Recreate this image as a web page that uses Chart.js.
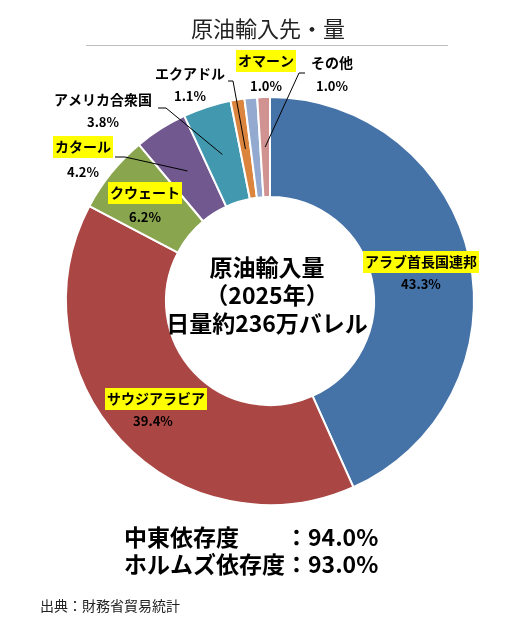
<!DOCTYPE html>
<html>
<head>
<meta charset="utf-8">
<script src="https://cdn.jsdelivr.net/npm/chart.js@4"></script>
<style>
  html, body { margin: 0; padding: 0; background: #fff; }
  #wrap { width: 517px; height: 621px; position: relative; }
</style>
</head>
<body>
<div id="wrap"><canvas id="oil-chart"></canvas></div>
<script>
// 原油輸入先・量 (2025年) — 財務省貿易統計
const categories = ['アラブ首長国連邦', 'サウジアラビア', 'クウェート', 'カタール', 'アメリカ合衆国', 'エクアドル', 'オマーン', 'その他'];
const shares = [43.3, 39.4, 6.2, 4.2, 3.8, 1.1, 1.0, 1.0];
const centerLines = ['原油輸入量', '（2025年）', '日量約236万バレル'];
const dependLabels = ['中東依存度', 'ホルムズ依存度'];
const dependValues = [94.0, 93.0];

const sliceColors = ['#4572A7', '#AA4643', '#89A54E', '#71588F', '#4198AF', '#DB843D', '#93A9CF', '#D19392'];
const FONT = '"Noto Sans CJK JP", "Noto Sans", sans-serif';

// where each category label sits; leader lines run from here to the slice centre
const labelLayout = [
  { x: 421, y: 262, py: 284, box: true },
  { x: 156, y: 399, py: 421, px: 153, box: true },
  { x: 145, y: 193, py: 217, box: true },
  { x: 83, y: 147, py: 172, box: true, leader: [[115, 157], [125, 157]] },
  { x: 103, y: 100, py: 122, leader: [[158, 108], [166, 108]] },
  { x: 190, y: 74, py: 96, leader: [[228, 81], [233, 81]] },
  { x: 266, y: 61, py: 86, box: true },
  { x: 332, y: 63, py: 86, leader: [[305, 73], [299, 73]] }
];

const decorations = {
  id: 'decorations',
  afterDraw(chart) {
    const ctx = chart.ctx;
    const arcs = chart.getDatasetMeta(0).data;
    ctx.save();

    // title + rule
    ctx.fillStyle = '#222';
    ctx.font = `22px ${FONT}`;
    ctx.textAlign = 'center';
    ctx.textBaseline = 'middle';
    ctx.fillText('原油輸入先・量', 268, 29);
    ctx.strokeStyle = '#bdbdbd';
    ctx.lineWidth = 1;
    ctx.beginPath();
    ctx.moveTo(86, 45.5);
    ctx.lineTo(448, 45.5);
    ctx.stroke();

    // leader lines
    ctx.strokeStyle = '#000';
    ctx.lineWidth = 1;
    labelLayout.forEach((lay, i) => {
      if (!lay.leader) return;
      const p = arcs[i].getCenterPoint();
      ctx.beginPath();
      ctx.moveTo(lay.leader[0][0], lay.leader[0][1]);
      ctx.lineTo(lay.leader[1][0], lay.leader[1][1]);
      ctx.lineTo(p.x, p.y);
      ctx.stroke();
    });

    // category labels
    labelLayout.forEach((lay, i) => {
      ctx.font = `bold 14px ${FONT}`;
      const name = categories[i];
      if (lay.box) {
        const w = ctx.measureText(name).width + 4;
        ctx.fillStyle = '#ffff00';
        ctx.fillRect(lay.x - w / 2, lay.y - 11, w, 22);
      }
      ctx.fillStyle = '#000';
      ctx.fillText(name, lay.x, lay.y);
      ctx.font = `bold 13px ${FONT}`;
      ctx.fillText(shares[i].toFixed(1) + '%', lay.px || lay.x, lay.py);
    });

    // centre text
    ctx.font = `bold 23px ${FONT}`;
    centerLines.forEach((t, i) => ctx.fillText(t, 267, 267 + i * 28));

    // dependency lines
    ctx.textAlign = 'left';
    ctx.font = `bold 23px ${FONT}`;
    const colonX = 124 + ctx.measureText(dependLabels[1]).width;
    dependLabels.forEach((t, i) => {
      const y = 537 + i * 27;
      ctx.fillText(t, 124, y);
      ctx.fillText('：' + dependValues[i].toFixed(1) + '%', colonX, y);
    });

    // source
    ctx.font = `14px ${FONT}`;
    ctx.fillStyle = '#222';
    ctx.fillText('出典：財務省貿易統計', 40, 606);
    ctx.restore();
  }
};

new Chart(document.getElementById('oil-chart'), {
  type: 'doughnut',
  data: {
    labels: categories,
    datasets: [{
      data: shares,
      backgroundColor: sliceColors,
      borderColor: '#ffffff',
      borderWidth: 2
    }]
  },
  plugins: [decorations],
  options: {
    responsive: true,
    maintainAspectRatio: false,
    animation: false,
    cutout: '51%',
    layout: { padding: { left: 65, right: 42, top: 96, bottom: 115 } },
    plugins: {
      legend: { display: false },
      tooltip: { enabled: false }
    }
  }
});
</script>
</body>
</html>
